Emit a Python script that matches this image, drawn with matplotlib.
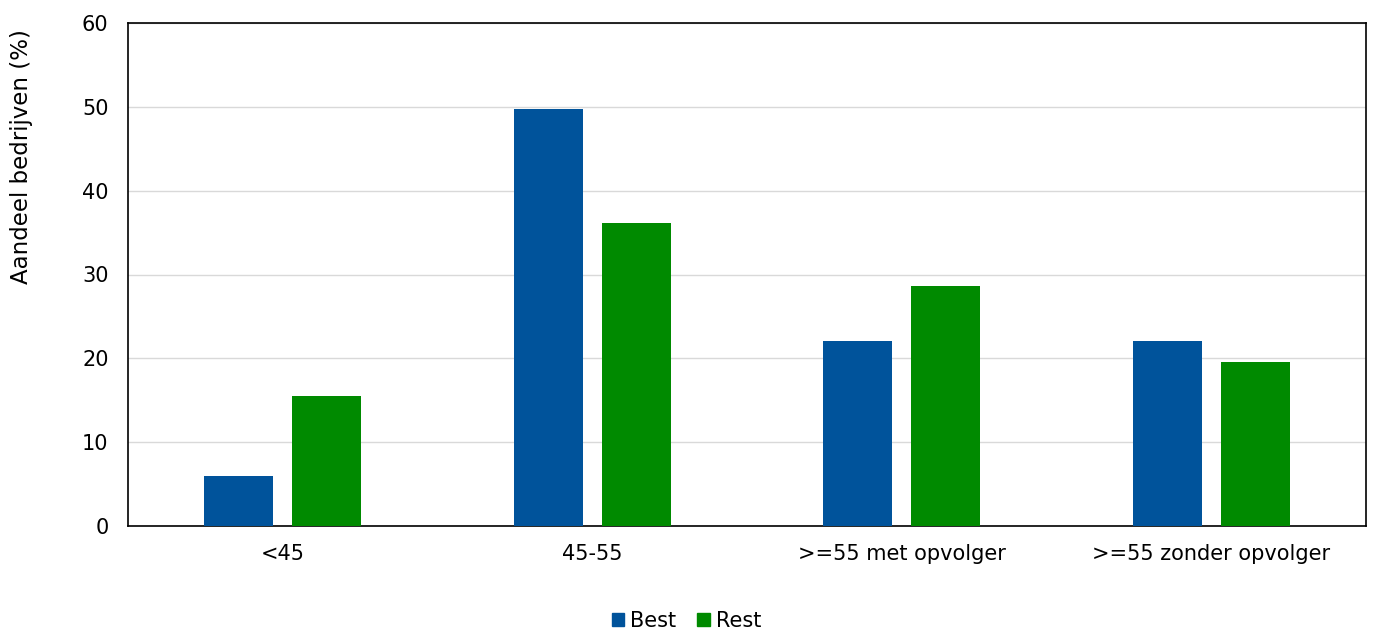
import numpy as np
import matplotlib.pyplot as plt
from matplotlib.patches import Patch

categories = ['<45', '45-55', '>=55 met opvolger', '>=55 zonder opvolger']
best = [6.0, 49.7, 22.1, 22.1]
rest = [15.5, 36.1, 28.6, 19.6]

plt.rcParams['font.family'] = 'DejaVu Sans'
plt.rcParams['font.size'] = 15

fig = plt.figure(figsize=(13.73, 6.32), dpi=100)
ax = fig.add_axes([128 / 1373, 1 - 526 / 632, (1366 - 128) / 1373, (526 - 23) / 632])

x = np.arange(len(categories))
w = 0.223
ax.bar(x - 0.142, best, w, color='#00539b', zorder=3)
ax.bar(x + 0.142, rest, w, color='#008a00', zorder=3)

ax.set_xlim(-0.5, 3.5)
ax.set_ylim(0, 60)
ax.set_yticks(range(0, 61, 10))
ax.set_xticks(x)
ax.set_xticklabels(categories)
ax.tick_params(length=0, pad=13)
ax.tick_params(axis='y', pad=14)
ax.grid(axis='y', color='#d9d9d9', linewidth=1, zorder=0)
for s in ax.spines.values():
    s.set_color('black')
    s.set_linewidth(1.2)
ax.set_ylabel('Aandeel bedrijven (%)', fontsize=16.5)
ax.yaxis.set_label_coords(-0.077, 0.735)

handles = [Patch(color='#00539b', label='Best'), Patch(color='#008a00', label='Rest')]
fig.legend(handles=handles, loc='center', bbox_to_anchor=(0.5, 1 - 621 / 632), ncol=2,
           frameon=False, handlelength=0.6, handleheight=0.6, handletextpad=0.3,
           columnspacing=1.0, fontsize=15)

fig.savefig('out.png', dpi=100)
